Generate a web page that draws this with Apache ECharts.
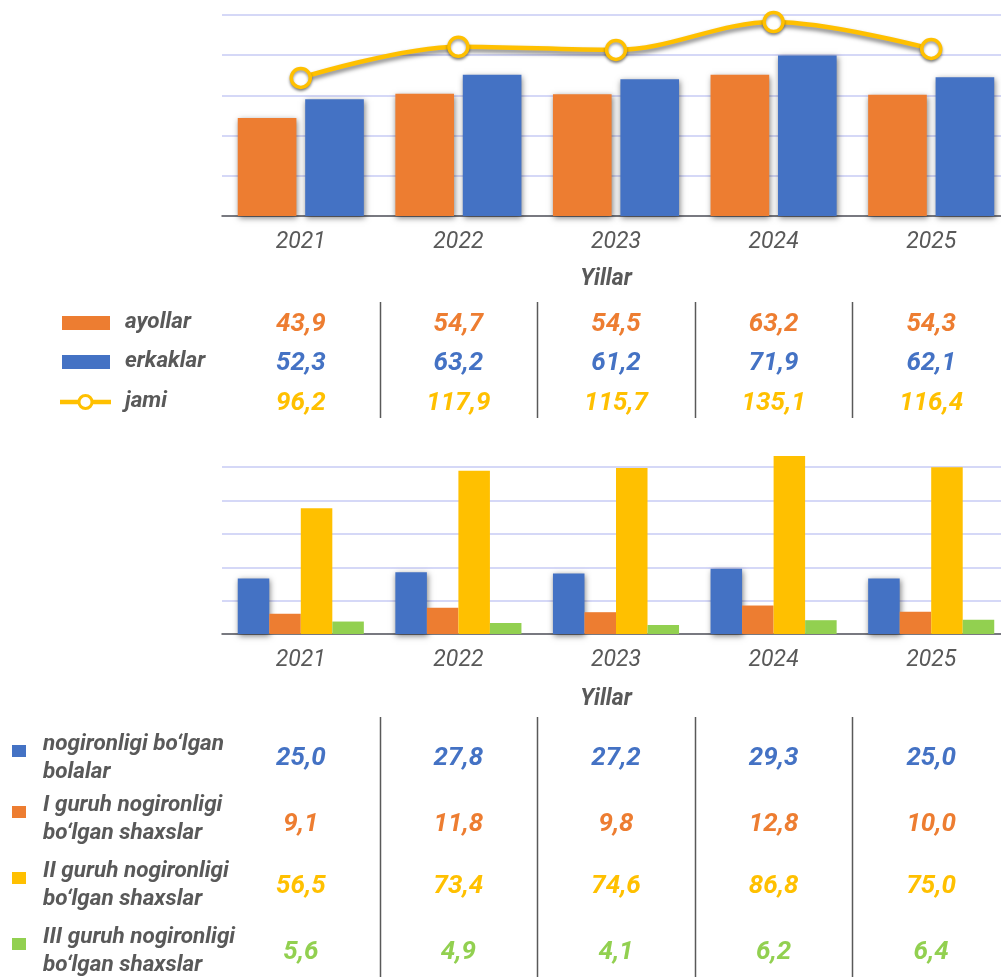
<!DOCTYPE html>
<html>
<head>
<meta charset="utf-8">
<script src="https://cdn.jsdelivr.net/npm/echarts@6/dist/echarts.min.js"></script>
<style>
  html, body { margin: 0; padding: 0; background: #fff; }
  #chart { width: 1001px; height: 977px; }
</style>
</head>
<body>
<div id="chart"></div>
<script>
const years = ['2021', '2022', '2023', '2024', '2025']

// top chart
const ayollar = [43.9, 54.7, 54.5, 63.2, 54.3]
const erkaklar = [52.3, 63.2, 61.2, 71.9, 62.1]
const jami = [96.2, 117.9, 115.7, 135.1, 116.4]

// bottom chart
const bolalar = [25.0, 27.8, 27.2, 29.3, 25.0]
const guruh1 = [9.1, 11.8, 9.8, 12.8, 10.0]
const guruh2 = [56.5, 73.4, 74.6, 86.8, 75.0]
const guruh3 = [5.6, 4.9, 4.1, 6.2, 6.4]

const topNames = ['ayollar', 'erkaklar', 'jami']
const bottomNames = [
  'nogironligi bo‘lgan\nbolalar',
  'I guruh nogironligi\nbo‘lgan shaxslar',
  'II guruh nogironligi\nbo‘lgan shaxslar',
  'III guruh nogironligi\nbo‘lgan shaxslar'
]

const ORANGE = '#ED7D31'
const BLUE = '#4472C4'
const YELLOW = '#FFC000'
const GREEN = '#92D050'
const GREY = '#595959'
const FONT = 'Roboto, "Noto Sans", sans-serif'

const fmt = v => v.toFixed(1).replace('.', ',')

const chart = echarts.init(document.getElementById('chart'))

const barShadow = {
  shadowColor: 'rgba(0,0,0,0.5)',
  shadowBlur: 6,
  shadowOffsetX: 1,
  shadowOffsetY: 2
}

const xAxisBase = {
  type: 'category',
  data: years,
  name: 'Yillar',
  nameLocation: 'middle',
  nameTextStyle: { color: GREY, fontFamily: FONT, fontSize: 23, fontWeight: 'bold', fontStyle: 'italic', padding: [0, 20, 0, 0] },
  axisLine: { lineStyle: { color: GREY, width: 1.5 } },
  axisTick: { length: 7, lineStyle: { color: GREY, width: 1.5 } },
  axisLabel: { color: GREY, fontFamily: FONT, fontSize: 23, fontStyle: 'italic', margin: 15 }
}

const gridLine = { lineStyle: { color: '#D5D8F7', width: 2 } }

const option = {
  animation: false,
  backgroundColor: '#fff',
  // plot runs a little past the right edge of the picture
  grid: [
    { left: 222, width: 788, top: 15, height: 201, outerBoundsMode: 'none' },
    { left: 222, width: 788, top: 456, height: 178, outerBoundsMode: 'none' }
  ],
  xAxis: [
    Object.assign({ gridIndex: 0, nameGap: 52 }, xAxisBase),
    Object.assign({ gridIndex: 1, nameGap: 54 }, xAxisBase)
  ],
  yAxis: [
    { gridIndex: 0, type: 'value', min: 0, max: 90, interval: 18, axisLabel: { show: false }, axisLine: { show: false }, axisTick: { show: false }, splitLine: gridLine },
    { gridIndex: 0, type: 'value', min: 0, max: 140, interval: 28, show: false, splitLine: { show: false } },
    { gridIndex: 1, type: 'value', min: 0, max: 80, interval: 15, axisLabel: { show: false }, axisLine: { show: false }, axisTick: { show: false }, splitLine: Object.assign({ showMaxLine: false }, gridLine) }
  ],
  series: [
    { name: 'ayollar', type: 'bar', xAxisIndex: 0, yAxisIndex: 0, data: ayollar, barGap: '15%', barCategoryGap: '20%', itemStyle: Object.assign({ color: ORANGE }, barShadow) },
    { name: 'erkaklar', type: 'bar', xAxisIndex: 0, yAxisIndex: 0, data: erkaklar, itemStyle: Object.assign({ color: BLUE }, barShadow) },
    {
      name: 'jami', type: 'line', xAxisIndex: 0, yAxisIndex: 1, data: jami, smooth: 0.35, z: 5,
      symbol: 'circle', symbolSize: 19,
      lineStyle: { color: YELLOW, width: 4.5, shadowColor: 'rgba(0,0,0,0.5)', shadowBlur: 4, shadowOffsetY: 3 },
      itemStyle: { color: '#fff', borderColor: YELLOW, borderWidth: 3.5, shadowColor: 'rgba(0,0,0,0.4)', shadowBlur: 3, shadowOffsetY: 2 }
    },
    { name: 'bolalar', type: 'bar', xAxisIndex: 1, yAxisIndex: 2, data: bolalar, barGap: 0, barCategoryGap: '20%', itemStyle: Object.assign({ color: BLUE }, barShadow) },
    { name: 'I guruh', type: 'bar', xAxisIndex: 1, yAxisIndex: 2, data: guruh1, itemStyle: { color: ORANGE } },
    { name: 'II guruh', type: 'bar', xAxisIndex: 1, yAxisIndex: 2, data: guruh2, itemStyle: { color: YELLOW } },
    { name: 'III guruh', type: 'bar', xAxisIndex: 1, yAxisIndex: 2, data: guruh3, itemStyle: { color: GREEN } }
  ]
}

chart.setOption(option)

// data tables under each chart, columns taken from the axis positions
const centers = years.map(y => chart.convertToPixel({ xAxisIndex: 0 }, y))
const band = centers[1] - centers[0]

const graphic = []
const valueText = (x, y, text, color) => ({
  type: 'text', style: { text, x, y, fill: color, fontFamily: FONT, fontSize: 26, fontWeight: 'bold', fontStyle: 'italic', align: 'center', verticalAlign: 'middle' }
})
const labelText = (x, y, text) => ({
  type: 'text', style: { text, x, y, fill: GREY, fontFamily: FONT, fontSize: 22.5, fontWeight: 'bold', fontStyle: 'italic', lineHeight: 28, align: 'left', verticalAlign: 'middle' }
})
const sepLine = (x, y1, y2) => ({
  type: 'line', shape: { x1: x, y1, x2: x, y2 }, style: { stroke: GREY, lineWidth: 1.5 }
})

// top table
const topRows = [ayollar, erkaklar, jami]
const topColors = [ORANGE, BLUE, YELLOW]
const topY = [323, 362, 402]
graphic.push({ type: 'rect', shape: { x: 62, y: topY[0] - 7, width: 48, height: 14 }, style: { fill: ORANGE } })
graphic.push({ type: 'rect', shape: { x: 62, y: topY[1] - 7, width: 48, height: 14 }, style: { fill: BLUE } })
graphic.push({ type: 'line', shape: { x1: 60, y1: topY[2], x2: 111, y2: topY[2] }, style: { stroke: YELLOW, lineWidth: 4.5 } })
graphic.push({ type: 'circle', shape: { cx: 85.5, cy: topY[2], r: 6.5 }, style: { fill: '#fff', stroke: YELLOW, lineWidth: 3 } })
topRows.forEach((row, r) => {
  graphic.push(labelText(125, topY[r] - 1, topNames[r]))
  row.forEach((v, i) => graphic.push(valueText(centers[i], topY[r] + 1, fmt(v), topColors[r])))
})
centers.slice(1).forEach(c => graphic.push(sepLine(Math.round(c - band / 2) + 0.5, 302, 418)))

// bottom table
const bottomRows = [bolalar, guruh1, guruh2, guruh3]
const bottomColors = [BLUE, ORANGE, YELLOW, GREEN]
const bottomLabelY = [758, 819, 885, 951]
const bottomValueY = [758, 824, 886, 952]
bottomRows.forEach((row, r) => {
  graphic.push({ type: 'rect', shape: { x: 12, y: bottomLabelY[r] - 13, width: 14, height: 12 }, style: { fill: bottomColors[r] } })
  graphic.push(labelText(43, bottomLabelY[r], bottomNames[r]))
  row.forEach((v, i) => graphic.push(valueText(centers[i], bottomValueY[r], fmt(v), bottomColors[r])))
})
centers.slice(1).forEach(c => graphic.push(sepLine(Math.round(c - band / 2) + 0.5, 717, 977)))

chart.setOption({ graphic })
</script>
</body>
</html>
